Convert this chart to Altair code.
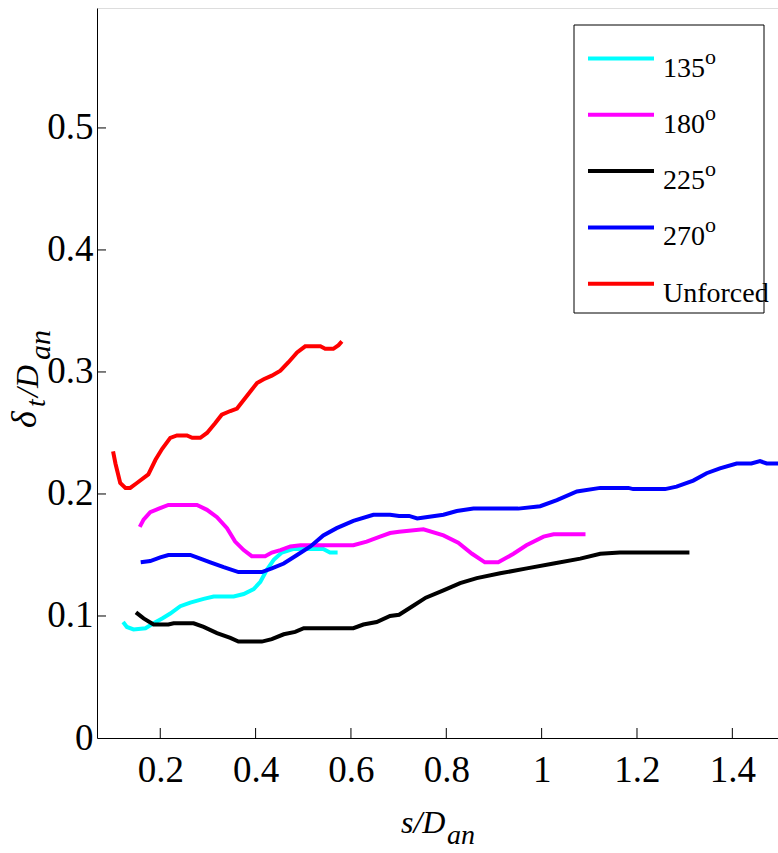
import altair as alt
import pandas as pd

# ---- series data: s/D_an (x) and delta_t/D_an (y) ----
x_135 = [0.122, 0.130, 0.144, 0.169, 0.186, 0.204, 0.221, 0.242, 0.263, 0.291, 0.312,
         0.354, 0.375, 0.396, 0.410, 0.424, 0.438, 0.455, 0.480, 0.542, 0.556, 0.572]
y_135 = [0.095, 0.091, 0.089, 0.090, 0.094, 0.098, 0.102, 0.108, 0.111, 0.114, 0.116,
         0.116, 0.118, 0.122, 0.128, 0.138, 0.146, 0.152, 0.155, 0.155, 0.152, 0.152]

x_180 = [0.157, 0.165, 0.179, 0.197, 0.217, 0.277, 0.298, 0.319, 0.340, 0.357, 0.375,
         0.392, 0.420, 0.434, 0.452, 0.473, 0.494, 0.605, 0.633, 0.661, 0.682, 0.701,
         0.752, 0.794, 0.825, 0.854, 0.881, 0.909, 0.941, 0.968, 1.004, 1.025, 1.092]
y_180 = [0.173, 0.179, 0.185, 0.188, 0.191, 0.191, 0.187, 0.181, 0.172, 0.161, 0.154,
         0.149, 0.149, 0.152, 0.154, 0.157, 0.158, 0.158, 0.161, 0.165, 0.168, 0.169,
         0.171, 0.166, 0.160, 0.151, 0.144, 0.144, 0.151, 0.158, 0.165, 0.167, 0.167]

x_225 = [0.149, 0.165, 0.186, 0.217, 0.228, 0.270, 0.291, 0.319, 0.347, 0.364, 0.413,
         0.434, 0.459, 0.483, 0.501, 0.605, 0.626, 0.654, 0.682, 0.701, 0.729, 0.757,
         0.794, 0.829, 0.864, 0.913, 0.969, 1.025, 1.081, 1.123, 1.164, 1.310]
y_225 = [0.103, 0.098, 0.093, 0.093, 0.094, 0.094, 0.091, 0.086, 0.082, 0.079, 0.079,
         0.081, 0.085, 0.087, 0.090, 0.090, 0.093, 0.095, 0.100, 0.101, 0.108, 0.115,
         0.121, 0.127, 0.131, 0.135, 0.139, 0.143, 0.147, 0.151, 0.152, 0.152]

x_270 = [0.159, 0.179, 0.200, 0.217, 0.263, 0.284, 0.305, 0.333, 0.364, 0.413, 0.434,
         0.459, 0.487, 0.515, 0.542, 0.570, 0.605, 0.647, 0.682, 0.701, 0.722, 0.739,
         0.757, 0.794, 0.822, 0.857, 0.951, 0.997, 1.032, 1.074, 1.123, 1.182, 1.192,
         1.259, 1.283, 1.318, 1.346, 1.374, 1.409, 1.440, 1.458, 1.472, 1.496]
y_270 = [0.144, 0.145, 0.148, 0.150, 0.150, 0.147, 0.144, 0.140, 0.136, 0.136, 0.139,
         0.143, 0.150, 0.157, 0.166, 0.172, 0.178, 0.183, 0.183, 0.182, 0.182, 0.180,
         0.181, 0.183, 0.186, 0.188, 0.188, 0.190, 0.195, 0.202, 0.205, 0.205, 0.204,
         0.204, 0.206, 0.211, 0.217, 0.221, 0.225, 0.225, 0.227, 0.225, 0.225]

x_unf = [0.101, 0.106, 0.116, 0.127, 0.137, 0.151, 0.175, 0.190, 0.204, 0.221, 0.235,
         0.256, 0.267, 0.284, 0.298, 0.315, 0.329, 0.347, 0.361, 0.375, 0.389, 0.403,
         0.417, 0.434, 0.452, 0.469, 0.487, 0.504, 0.536, 0.546, 0.563, 0.574, 0.581]
y_unf = [0.235, 0.225, 0.209, 0.205, 0.205, 0.209, 0.216, 0.228, 0.237, 0.246, 0.248,
         0.248, 0.246, 0.246, 0.250, 0.258, 0.265, 0.268, 0.270, 0.277, 0.284, 0.291,
         0.294, 0.297, 0.301, 0.308, 0.316, 0.321, 0.321, 0.319, 0.319, 0.322, 0.325]

series_names = ["135", "180", "225", "270", "Unforced"]
series_sup = ["o", "o", "o", "o", ""]
series_colors = ["#00FFFF", "#FF00FF", "#000000", "#0000FF", "#FF0000"]
series_xy = [(x_135, y_135), (x_180, y_180), (x_225, y_225), (x_270, y_270), (x_unf, y_unf)]

x_ticks = [0.2, 0.4, 0.6, 0.8, 1.0, 1.2, 1.4]
y_ticks = [0.1, 0.2, 0.3, 0.4, 0.5]
y_labels = [0, 0.1, 0.2, 0.3, 0.4, 0.5]

W, H = 681, 730
FONT = "'Liberation Serif', 'Times New Roman', Times, serif"

rows = []
for name, (xs, ys) in zip(series_names, series_xy):
    for i, (xv, yv) in enumerate(zip(xs, ys)):
        rows.append({"series": name, "i": i, "s": xv, "d": yv})
df = pd.DataFrame(rows)

x_scale = alt.Scale(domain=[0.0673, 1.4958], nice=False, zero=False)
y_scale = alt.Scale(domain=[0, 0.5983], nice=False, zero=False)

x_axis = alt.Axis(values=x_ticks, format=".1~f", title=None, grid=False, ticks=False,
                  tickSize=0, labelPadding=14, labelFont=FONT, labelFontSize=37,
                  labelColor="black", domainColor="black", domainWidth=1)
y_axis = alt.Axis(values=y_labels, format=".1~f", title=None, grid=False, ticks=False,
                  tickSize=0, labelPadding=4, labelFont=FONT, labelFontSize=37,
                  labelColor="black", domainColor="black", domainWidth=1)

lines = alt.Chart(df).mark_line(strokeWidth=4, clip=True).encode(
    x=alt.X("s:Q", scale=x_scale, axis=x_axis),
    y=alt.Y("d:Q", scale=y_scale, axis=y_axis),
    color=alt.Color("series:N", scale=alt.Scale(domain=series_names, range=series_colors),
                    legend=None),
    order="i:Q",
)

# inward tick marks, MATLAB style
ytick_df = pd.DataFrame({"v": y_ticks})
xtick_df = pd.DataFrame({"v": x_ticks})
yticks = alt.Chart(ytick_df).mark_rule(color="black", strokeWidth=1).encode(
    y=alt.Y("v:Q", scale=y_scale), x=alt.value(0), x2=alt.value(9))
xticks = alt.Chart(xtick_df).mark_rule(color="black", strokeWidth=1).encode(
    x=alt.X("v:Q", scale=x_scale), y=alt.value(H), y2=alt.value(H - 10))

layers = [lines, yticks, xticks]

# axis titles with subscripts
def txt(s, x, y, size, angle=0, italic=True):
    return alt.Chart(pd.DataFrame({"t": [s]})).mark_text(
        font=FONT, fontSize=size, fontStyle="italic" if italic else "normal",
        align="left", baseline="alphabetic", angle=angle, color="black"
    ).encode(text="t:N", x=alt.value(x), y=alt.value(y))

layers += [
    txt("\u03b4", -61, 420, 36, angle=270),
    txt("t", -52, 399, 28, angle=270),
    txt("/D", -59, 389, 32, angle=270),
    txt("an", -47, 352, 30, angle=270),
    txt("s/D", 304, 825, 32),
    txt("an", 350, 836, 28),
]

# legend box
box = alt.Chart(pd.DataFrame({"a": [0]})).mark_rect(
    fill="white", stroke="black", strokeWidth=1
).encode(x=alt.value(477), x2=alt.value(667), y=alt.value(17), y2=alt.value(305))
layers.append(box)

for k, (name, sup, col) in enumerate(zip(series_names, series_sup, series_colors)):
    ly = 50.5 + k * 56.3
    layers.append(
        alt.Chart(pd.DataFrame({"a": [0]})).mark_rule(color=col, strokeWidth=4).encode(
            x=alt.value(491), x2=alt.value(557), y=alt.value(ly), y2=alt.value(ly))
    )
    layers.append(txt(name, 566, ly + 18, 28, italic=False))
    if sup:
        layers.append(txt(sup, 608, ly + 5, 22, italic=False))

chart = alt.layer(*layers).properties(
    width=W, height=H,
    autosize=alt.AutoSizeParams(type="none"),
    padding={"left": 97, "top": 8, "right": 0, "bottom": 115},
).configure_view(stroke=None).configure(background="white")

chart.save("out.html", embed_options={"renderer": "svg", "actions": False})
